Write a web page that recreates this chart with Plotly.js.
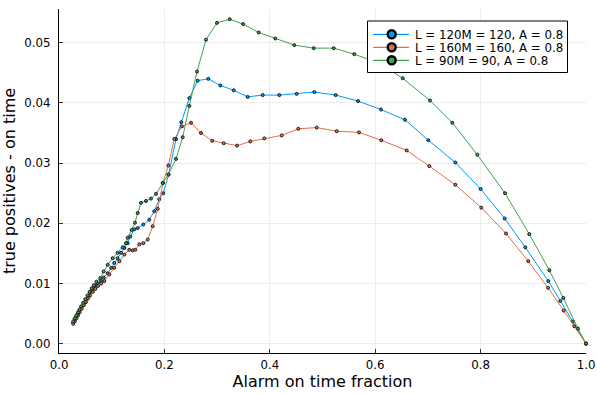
<!DOCTYPE html>
<html>
<head>
<meta charset="utf-8">
<script src="https://cdn.plot.ly/plotly-3.0.1.min.js"></script>
<style>html,body{margin:0;padding:0;background:#fff;}#chart{width:597px;height:394px;}</style>
</head>
<body>
<div id="chart"></div>
<script>
// Series names
const seriesNames = ["L = 120M = 120, A = 0.8", "L = 160M = 160, A = 0.8", "L = 90M = 90, A = 0.8"];

// L = 120 (blue)
const x120 = [0.027,0.030,0.033,0.036,0.039,0.043,0.047,0.051,0.055,0.059,0.063,0.068,0.073,0.0797,0.085,0.0924,0.099,0.1049,0.111,0.1176,0.124,0.1303,0.1353,0.1429,0.1493,0.160,0.1713,0.1808,0.1903,0.1979,0.2081,0.222,0.2321,0.2473,0.2631,0.2833,0.3061,0.3315,0.358,0.3865,0.4181,0.451,0.4845,0.525,0.5674,0.611,0.6565,0.7008,0.752,0.8001,0.8457,0.8848,0.9285,0.9513,0.9753,1.0];
const y120 = [0.0035,0.0040,0.0045,0.0050,0.0055,0.0061,0.0067,0.0073,0.0079,0.0085,0.0090,0.0096,0.0100,0.0104,0.0110,0.0117,0.0126,0.0134,0.0142,0.0151,0.0159,0.0167,0.0178,0.0190,0.0192,0.0198,0.0206,0.0220,0.0240,0.0250,0.0281,0.0340,0.0368,0.0408,0.0437,0.0440,0.0429,0.0421,0.0410,0.0413,0.0413,0.0415,0.0418,0.0413,0.0403,0.0389,0.0372,0.0338,0.0301,0.0257,0.0208,0.0160,0.0104,0.0071,0.0037,0.0];

// L = 160 (orange)
const x160 = [0.027,0.030,0.033,0.036,0.039,0.043,0.047,0.051,0.055,0.059,0.064,0.069,0.074,0.080,0.086,0.0955,0.1049,0.1145,0.124,0.1334,0.1398,0.1448,0.1524,0.160,0.1683,0.1778,0.1873,0.1973,0.2074,0.2188,0.2334,0.2505,0.2694,0.2909,0.3125,0.3378,0.363,0.3896,0.4226,0.4541,0.489,0.527,0.5693,0.6116,0.6597,0.7027,0.752,0.8013,0.8482,0.8905,0.9279,0.9577,0.9778,1.0];
const y160 = [0.0033,0.0037,0.0042,0.0047,0.0052,0.0058,0.0064,0.0069,0.0075,0.0080,0.0086,0.0091,0.0096,0.0100,0.0104,0.0115,0.0126,0.0137,0.0148,0.0156,0.0155,0.0156,0.0165,0.0167,0.0173,0.0195,0.0224,0.0267,0.0296,0.0340,0.0361,0.0367,0.0350,0.0337,0.0333,0.0329,0.0336,0.0341,0.0346,0.0357,0.0359,0.0353,0.0351,0.0338,0.0321,0.0295,0.0264,0.0226,0.0183,0.0137,0.0093,0.0055,0.0029,0.0];

// L = 90 (green)
const x90 = [0.027,0.030,0.033,0.036,0.039,0.042,0.046,0.050,0.054,0.058,0.062,0.066,0.071,0.0784,0.0848,0.0924,0.1018,0.1113,0.1209,0.1271,0.1303,0.1379,0.1442,0.1493,0.1556,0.1651,0.1746,0.1841,0.1967,0.2074,0.222,0.2347,0.2473,0.2619,0.2789,0.2998,0.3239,0.3491,0.3789,0.4104,0.4465,0.4833,0.5213,0.5603,0.607,0.6522,0.704,0.7463,0.7938,0.8463,0.8924,0.9304,0.957,0.9848,1.0];
const y90 = [0.0037,0.0042,0.0047,0.0052,0.0057,0.0062,0.0068,0.0074,0.0080,0.0086,0.0092,0.0097,0.0103,0.0109,0.0120,0.0131,0.0142,0.0151,0.0160,0.0167,0.0176,0.0189,0.0201,0.0217,0.0234,0.0237,0.0241,0.0249,0.0267,0.0281,0.0307,0.0343,0.0395,0.0452,0.0505,0.0533,0.0539,0.0531,0.0517,0.0507,0.0496,0.0491,0.0491,0.0481,0.0466,0.0441,0.0404,0.0367,0.0314,0.0250,0.0182,0.0122,0.0076,0.0025,0.0];

// Axis tick values
const xTicks = [0.0, 0.2, 0.4, 0.6, 0.8, 1.0];
const yTicks = [0.00, 0.01, 0.02, 0.03, 0.04, 0.05];

const colors = ["#009AFA", "#E36F47", "#3EA44E"];
const xs = [x120, x160, x90];
const ys = [y120, y160, y90];

const W = 597, H = 394;
const M = {l: 59, r: 11, t: 9, b: 41};
const PW = W - M.l - M.r, PH = H - M.t - M.b;
const px2x = p => (p - M.l) / PW;
const px2y = p => (H - M.b - p) / PH;

const traces = [];
for (let i = 0; i < 3; i++) {
  traces.push({
    x: xs[i], y: ys[i], type: "scatter", mode: "lines+markers",
    name: seriesNames[i],
    line: {color: colors[i], width: 1},
    marker: {size: 3, color: colors[i], line: {color: "#1a1a1a", width: 1}},
    showlegend: false, cliponaxis: false, hoverinfo: "skip"
  });
}

// Custom legend (box, line, marker, label)
const shapes = [];
const annotations = [];
const legBox = {x0: 367.5, x1: 567.5, y0: 21, y1: 72.5};
shapes.push({type: "rect", xref: "paper", yref: "paper",
  x0: px2x(legBox.x0), x1: px2x(legBox.x1), y0: px2y(legBox.y1), y1: px2y(legBox.y0),
  line: {color: "#000", width: 1}, fillcolor: "#fff", layer: "above"});
for (let i = 0; i < 3; i++) {
  const cy = 34.3 + 13 * i;
  shapes.push({type: "line", xref: "paper", yref: "paper",
    x0: px2x(373.3), x1: px2x(409), y0: px2y(cy), y1: px2y(cy),
    line: {color: colors[i], width: 1.2}, layer: "above"});
  shapes.push({type: "circle", xref: "paper", yref: "paper",
    xsizemode: "pixel", ysizemode: "pixel",
    xanchor: px2x(391.7), yanchor: px2y(cy),
    x0: -4, x1: 4, y0: -4, y1: 4,
    fillcolor: colors[i], line: {color: "#000", width: 2.4}, layer: "above"});
  annotations.push({xref: "paper", yref: "paper", x: px2x(413), y: px2y(cy + 0.5),
    xanchor: "left", yanchor: "middle", showarrow: false, text: seriesNames[i],
    font: {family: "DejaVu Sans", size: 11.8, color: "#000"}});
}

const tickFont = {family: "DejaVu Sans", size: 11.8, color: "#000"};
const layout = {
  width: W, height: H,
  margin: {l: M.l, r: M.r, t: M.t, b: M.b, pad: 0},
  paper_bgcolor: "#fff", plot_bgcolor: "#fff",
  font: {family: "DejaVu Sans", size: 11.8, color: "#000"},
  xaxis: {
    range: [0, 1], tickvals: xTicks, ticktext: xTicks.map(v => v.toFixed(1)),
    showgrid: true, gridcolor: "#ececec", gridwidth: 1, zeroline: false,
    showline: true, linecolor: "#000", linewidth: 1, mirror: false,
    ticks: "inside", ticklen: 4, tickcolor: "#333", tickfont: tickFont,
    automargin: false, ticklabelstandoff: 1,
    title: {text: "Alarm on time fraction", font: {family: "DejaVu Sans", size: 16, color: "#000"}, standoff: 4}
  },
  yaxis: {
    range: [-0.00155, 0.0556], tickvals: yTicks, ticktext: yTicks.map(v => v.toFixed(2)),
    showgrid: true, gridcolor: "#ececec", gridwidth: 1, zeroline: false,
    showline: true, linecolor: "#000", linewidth: 1, mirror: false,
    ticks: "inside", ticklen: 4, tickcolor: "#333", tickfont: tickFont,
    automargin: false, ticklabelstandoff: 5,
    title: {text: "true positives - on time", font: {family: "DejaVu Sans", size: 16, color: "#000"}, standoff: 5}
  },
  shapes: shapes,
  annotations: annotations,
  showlegend: false
};

Plotly.newPlot("chart", traces, layout, {staticPlot: true, displayModeBar: false});
</script>
</body>
</html>
